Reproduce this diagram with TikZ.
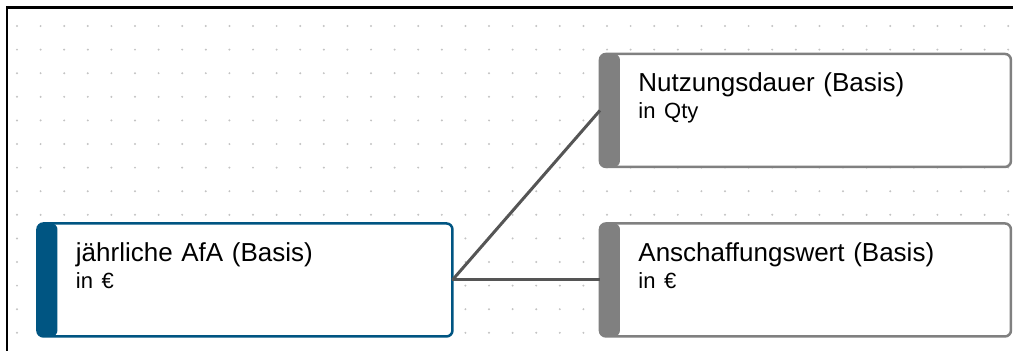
\documentclass[tikz,border=0pt]{standalone}
\usepackage{fontspec}
\setmainfont{Liberation Sans}
\usetikzlibrary{matrix}
\definecolor{afablue}{RGB}{0,85,130}
\definecolor{basisgray}{RGB}{128,128,128}
\definecolor{linkgray}{RGB}{85,85,85}
\definecolor{dotgray}{RGB}{195,195,195}
\begin{document}
\begin{tikzpicture}[x=1pt,y=-1pt,
    box/.style={draw=#1,line width=2.5pt,fill=white,rounded corners=6pt,anchor=base,
      text width=334pt,align=left,inner xsep=38.5pt,inner ysep=0pt,outer sep=0pt,
      text height=38pt,text depth=75pt,font=\fontsize{26}{27}\selectfont,
      path picture={\fill[#1] (path picture bounding box.north west) rectangle ([xshift=20pt]path picture bounding box.south west);}},
    link/.style={draw=linkgray,line width=3pt}]
  \fill[white] (0,0) rectangle (1013,351);
  \useasboundingbox (0,0) rectangle (1013,351);
  \foreach \i in {0,...,42}
    \foreach \j in {0,...,13}
      \fill[dotgray] ({17+23.6*\i},{26+23.6*\j}) circle (1.1pt);
  \draw[line width=2.5pt] (7,351) -- (7,7.5) -- (1013,7.5);
  \matrix[matrix of nodes,anchor=north west,inner sep=0pt,column sep=145pt,row sep=54pt,ampersand replacement=\&] at (36,52.5)
  {
    \& |[box=basisgray] (nutz)| Nutzungsdauer (Basis)\newline{\fontsize{22}{27}\selectfont in Qty} \\
    |[box=afablue,text width=338pt] (afa)| jährliche AfA (Basis)\newline{\fontsize{22}{27}\selectfont in €} \& |[box=basisgray] (anschaff)| Anschaffungswert (Basis)\newline{\fontsize{22}{27}\selectfont in €} \\
  };
  \draw[link] (afa.east) -- (nutz.west);
  \draw[link] (afa.east) -- (anschaff.west);
\end{tikzpicture}
\end{document}
